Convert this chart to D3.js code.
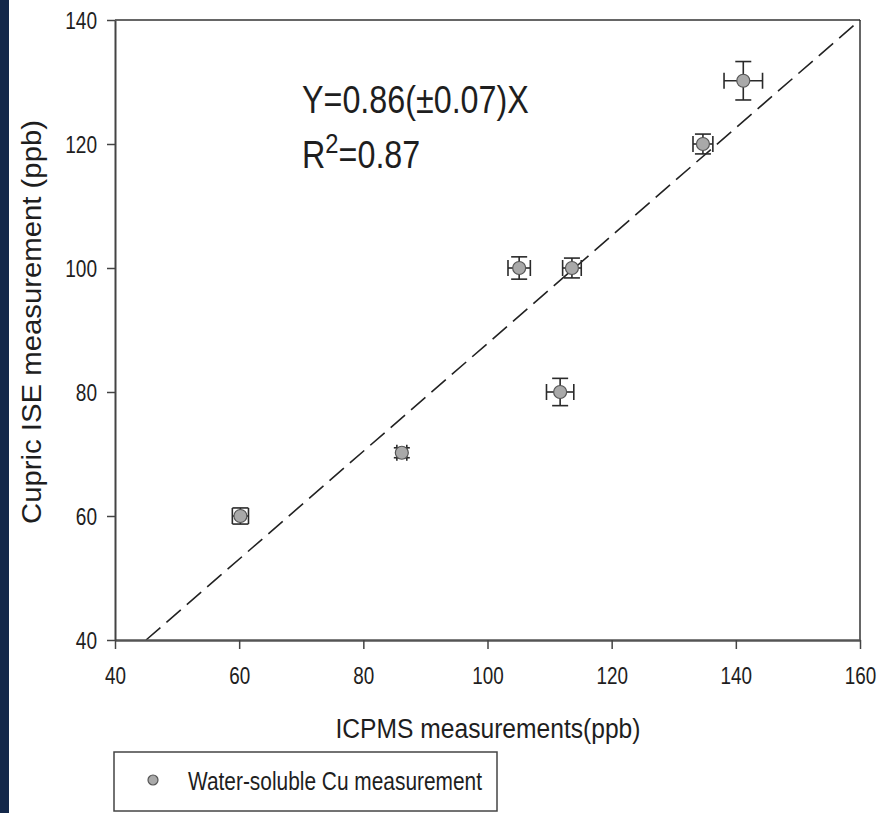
<!DOCTYPE html>
<html>
<head>
<meta charset="utf-8">
<script src="https://cdn.jsdelivr.net/npm/d3@7/dist/d3.min.js"></script>
<style>
body { margin: 0; background: #fff; }
text { font-family: "Liberation Sans", Arial, sans-serif; fill: #1e1e1e; }
</style>
</head>
<body>
<svg id="place" width="891" height="813"></svg>
<script>
// values
var icpms = [60.2, 86.2, 105.1, 113.6, 111.7, 134.7, 141.2];
var ise = [60, 70.2, 100, 100, 80, 120, 130.2];
var icpmsErr = [1.3, 0.8, 1.8, 1.5, 2.2, 1.6, 3.1];
var iseErr = [1.3, 0.8, 1.8, 1.6, 2.2, 1.6, 3.1];
var fitX = [45, 160];
var fitY = [40, 140];
var xTicks = [40, 60, 80, 100, 120, 140, 160];
var yTicks = [40, 60, 80, 100, 120, 140];
var legendLabel = "Water-soluble Cu measurement";

var svg = d3.select("#place");

var x = d3.scaleLinear().domain([40, 160]).range([115, 860]);
var y = d3.scaleLinear().domain([40, 140]).range([640, 20]);

// dark strip on the left edge
svg.append("rect").attr("x", 0).attr("y", 0).attr("width", 9).attr("height", 813)
    .attr("fill", "#13284a");

// frame (top and right)
svg.append("line").attr("x1", x(40)).attr("x2", x(160)).attr("y1", y(140)).attr("y2", y(140))
    .attr("stroke", "#333").attr("stroke-width", 1.5);
svg.append("line").attr("x1", x(160)).attr("x2", x(160)).attr("y1", y(140)).attr("y2", y(40))
    .attr("stroke", "#333").attr("stroke-width", 1.5);

// fit line
svg.append("line")
    .attr("x1", x(fitX[0])).attr("y1", y(fitY[0]))
    .attr("x2", x(fitX[1])).attr("y2", y(fitY[1]))
    .attr("stroke", "#222").attr("stroke-width", 1.6)
    .attr("stroke-dasharray", "19,8");

// axes
var xAxis = d3.axisBottom(x).tickValues(xTicks).tickSizeInner(9).tickSizeOuter(0)
    .tickFormat(d3.format("d"));
var yAxis = d3.axisLeft(y).tickValues(yTicks).tickSizeInner(8).tickSizeOuter(0)
    .tickFormat(d3.format("d"));

var gx = svg.append("g").attr("transform", "translate(0," + y(40) + ")").call(xAxis);
var gy = svg.append("g").attr("transform", "translate(" + x(40) + ",0)").call(yAxis);

gx.select(".domain").attr("stroke", "#555").attr("stroke-width", 2.5);
gy.select(".domain").attr("stroke", "#444").attr("stroke-width", 2);
svg.selectAll(".tick line").attr("stroke", "#444").attr("stroke-width", 1.5);

gx.selectAll(".tick text")
    .attr("y", 44).attr("dy", 0)
    .attr("font-size", 24)
    .attr("textLength", function(d) { return String(d).length * 10.5; })
    .attr("lengthAdjust", "spacingAndGlyphs");
gy.selectAll(".tick text")
    .attr("x", -18).attr("dy", "0.36em")
    .attr("font-size", 23)
    .attr("textLength", function(d) { return String(d).length * 10.6; })
    .attr("lengthAdjust", "spacingAndGlyphs");
svg.selectAll(".tick text").attr("fill", "#1e1e1e").style("font-family", "'Liberation Sans', Arial, sans-serif");

// axis titles
svg.append("text")
    .attr("x", 488).attr("y", 738)
    .attr("text-anchor", "middle")
    .attr("font-size", 27)
    .attr("textLength", 305).attr("lengthAdjust", "spacingAndGlyphs")
    .text("ICPMS measurements(ppb)");
svg.append("text")
    .attr("transform", "translate(41,322)rotate(-90)")
    .attr("text-anchor", "middle")
    .attr("font-size", 27)
    .attr("textLength", 404).attr("lengthAdjust", "spacingAndGlyphs")
    .text("Cupric ISE measurement (ppb)");

// equation
var eq = svg.append("g").attr("transform", "translate(302,0)scale(0.85,1)");
eq.append("text").attr("x", 0).attr("y", 113).attr("font-size", 38)
    .text("Y=0.86(\u00b10.07)X");
var r2 = eq.append("text").attr("x", 0).attr("y", 168).attr("font-size", 38);
r2.append("tspan").text("R");
r2.append("tspan").attr("font-size", 28).attr("dy", -15).text("2");
r2.append("tspan").attr("dy", 15).text("=0.87");

// points with error bars
var pts = icpms.map(function(v, i) {
    return { x: v, y: ise[i], ex: icpmsErr[i], ey: iseErr[i] };
});
var cap = 8;
var g = svg.append("g").attr("stroke", "#2a2a2a").attr("stroke-width", 1.6);
pts.forEach(function(p) {
    var cx = x(p.x), cy = y(p.y);
    var x0 = x(p.x - p.ex), x1 = x(p.x + p.ex);
    var y0 = y(p.y - p.ey), y1 = y(p.y + p.ey);
    g.append("line").attr("x1", x0).attr("x2", x1).attr("y1", cy).attr("y2", cy);
    g.append("line").attr("x1", cx).attr("x2", cx).attr("y1", y0).attr("y2", y1);
    g.append("line").attr("x1", x0).attr("x2", x0).attr("y1", cy - cap).attr("y2", cy + cap);
    g.append("line").attr("x1", x1).attr("x2", x1).attr("y1", cy - cap).attr("y2", cy + cap);
    g.append("line").attr("x1", cx - cap).attr("x2", cx + cap).attr("y1", y0).attr("y2", y0);
    g.append("line").attr("x1", cx - cap).attr("x2", cx + cap).attr("y1", y1).attr("y2", y1);
});
svg.append("g").selectAll("circle").data(pts).enter().append("circle")
    .attr("cx", function(d) { return x(d.x); })
    .attr("cy", function(d) { return y(d.y); })
    .attr("r", 6.5)
    .attr("fill", "#a9a9a9").attr("stroke", "#555").attr("stroke-width", 1.2);

// legend
svg.append("rect").attr("x", 114).attr("y", 752).attr("width", 383).attr("height", 59)
    .attr("fill", "none").attr("stroke", "#444").attr("stroke-width", 1.5);
svg.append("circle").attr("cx", 153).attr("cy", 780).attr("r", 5)
    .attr("fill", "#a9a9a9").attr("stroke", "#555").attr("stroke-width", 1.2);
svg.append("text").attr("x", 188).attr("y", 790).attr("font-size", 26)
    .attr("textLength", 294).attr("lengthAdjust", "spacingAndGlyphs")
    .text(legendLabel);
</script>
</body>
</html>
